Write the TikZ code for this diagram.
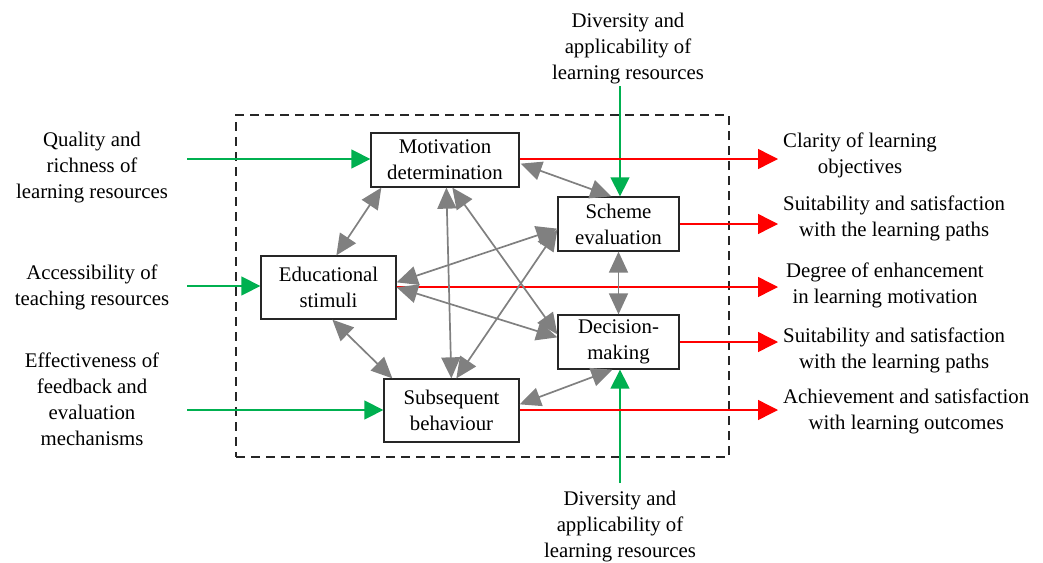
\documentclass[tikz,border=0pt]{standalone}
\usepackage{fontspec}
\setmainfont{Liberation Serif}
\usetikzlibrary{arrows.meta,calc}
\definecolor{ggreen}{RGB}{0,176,80}
\definecolor{gred}{RGB}{255,0,0}
\definecolor{ggray}{RGB}{128,128,128}
\begin{document}
\begin{tikzpicture}[x=1pt,y=-1pt,
  txt/.style={align=center,inner sep=0pt,font=\fontsize{20.8}{26}\selectfont},
  box/.style={txt,draw=black!85,line width=1.3pt},
  grayarr/.style={draw=ggray,line width=1.7pt,{Triangle[length=21pt,width=19pt]}-{Triangle[length=21pt,width=19pt]}},
  greenarr/.style={draw=ggreen,line width=1.4pt,-{Triangle[length=19pt,width=19pt]}},
  redarr/.style={draw=gred,line width=1.4pt,-{Triangle[length=20pt,width=20pt]}},
  frame/.style={draw=black!85,line width=1.2pt,dash pattern=on 9pt off 6pt}
]
\useasboundingbox (0,0) rectangle (1043,562);
% dashed frame
\node[frame,minimum width=493pt,minimum height=342pt,inner sep=0pt] (fr) at (482.5,286) {};
% boxes
\node[box,minimum width=148pt,minimum height=54pt] (mot) at (445,160) {Motivation\\determination};
\node[box,minimum width=121pt,minimum height=54pt] (sch) at (618.5,224) {Scheme\\evaluation};
\node[box,minimum width=135pt,minimum height=63pt] (edu) at (328.5,287.5) {Educational\\stimuli};
\node[box,minimum width=121pt,minimum height=54pt] (dec) at (618.5,342) {Decision-\\making};
\node[box,minimum width=135pt,minimum height=63pt] (sub) at (451.5,410.5) {Subsequent\\behaviour};
% left labels
\node[txt] (l1) at (92,168) {Quality and\\richness of\\learning resources};
\node[txt] (l2) at (92,287) {Accessibility of\\teaching resources};
\node[txt] (l3) at (92,399) {Effectiveness of\\feedback and\\evaluation\\mechanisms};
% top/bottom labels
\node[txt] (t1) at (628,49) {Diversity and\\applicability of\\learning resources};
\node[txt] (b1) at (620,527) {Diversity and\\applicability of\\learning resources};
% right labels
\node[txt,anchor=west] (r1) at (783,155) {Clarity of learning\\objectives};
\node[txt,anchor=west] (r2) at (783,218) {Suitability and satisfaction\\with the learning paths};
\node[txt,anchor=west] (r3) at (786,285) {Degree of enhancement\\in learning motivation};
\node[txt,anchor=west] (r4) at (783,350) {Suitability and satisfaction\\with the learning paths};
\node[txt,anchor=west] (r5) at (783,411) {Achievement and satisfaction\\with learning outcomes};
% green inputs
\coordinate (g1) at (187,159);
\coordinate (g2) at (187,286);
\coordinate (g3) at (187,410);
\coordinate (gt) at (620,86);
\coordinate (gb) at (620,483);
\draw[greenarr] (g1) -- (g1 -| mot.west);
\draw[greenarr] (g2) -- (g2 -| edu.west);
\draw[greenarr] (g3) -- (g3 -| sub.west);
\draw[greenarr] (gt) -- (gt |- sch.north);
\draw[greenarr] (gb) -- (gb |- dec.south);
% red outputs
\coordinate (o1) at (778,159);
\coordinate (o2) at (778,224);
\coordinate (o3) at (778,287);
\coordinate (o4) at (778,342);
\coordinate (o5) at (778,410);
\draw[redarr] (o1 -| mot.east) -- (o1);
\draw[redarr] (o2 -| sch.east) -- (o2);
\draw[redarr] (o3 -| edu.east) -- (o3);
\draw[redarr] (o4 -| dec.east) -- (o4);
\draw[redarr] (o5 -| sub.east) -- (o5);
% gray links
\draw[grayarr] ($(mot.south east)+(1,-24)$) -- ($(sch.north west)+(54,0)$);
\draw[grayarr] ($(mot.south west)+(11,0)$) -- ($(edu.north west)+(76,0)$);
\draw[grayarr] ($(mot.south west)+(76,0)$) -- ($(sub.north west)+(68,0)$);
\draw[grayarr] ($(mot.south west)+(82,0)$) -- ($(dec.north west)+(0,20)$);
\draw[grayarr] ($(edu.north east)+(0,27)$) -- ($(sch.south west)+(0,-23)$);
\draw[grayarr] ($(edu.north east)+(0,32)$) -- ($(dec.north west)+(0,23)$);
\draw[grayarr] ($(edu.south west)+(72,0)$) -- ($(sub.north west)+(9,0)$);
\draw[grayarr] (sch.south) -- (dec.north);
\draw[grayarr] ($(sub.north west)+(73,0)$) -- ($(sch.south west)+(0,-22)$);
\draw[grayarr] ($(sub.north east)+(0,26)$) -- ($(dec.south west)+(55,0)$);
\end{tikzpicture}
\end{document}
